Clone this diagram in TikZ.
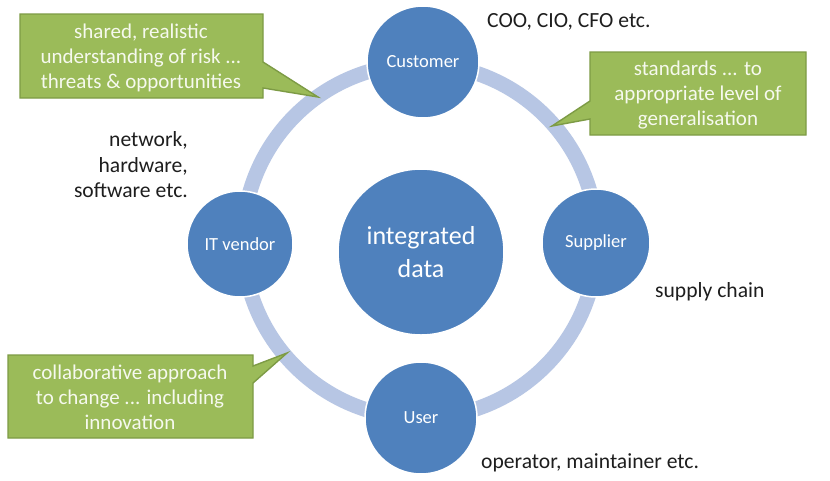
\documentclass[tikz,border=0pt]{standalone}
\usepackage{fontspec}
\setmainfont{Carlito}
\definecolor{ringblue}{HTML}{B7C6E4}
\definecolor{discblue}{HTML}{4F81BD}
\definecolor{notegreen}{HTML}{9BBB59}
\definecolor{noteedge}{HTML}{7D9B45}
\definecolor{notetext}{HTML}{F6F9EE}
\definecolor{labeltext}{HTML}{1E1E1E}
\begin{document}
\begin{tikzpicture}[x=1pt,y=-1pt,
  disc/.style={circle,fill=discblue,draw=white,line width=1.5pt,inner sep=0pt,
    text=white,align=center},
  smalldisc/.style={disc,minimum size=112pt,font=\fontsize{18.5}{22}\selectfont},
  bigdisc/.style={disc,minimum size=166pt,font=\fontsize{26}{33}\selectfont},
  notebox/.style={fill=notegreen,draw=noteedge,line width=1.4pt,line join=miter},
  notetxt/.style={text=notetext,align=center,inner sep=0pt,font=\fontsize{21}{25}\selectfont},
  tag/.style={text=labeltext,inner sep=0pt,font=\fontsize{21.6}{25.5}\selectfont}]
\useasboundingbox[fill=white] (0,0) rectangle (830,480);

% ring joining the four stakeholders
\draw[ringblue,line width=15pt] (420,241) circle[radius=177];

% stakeholders and the hub
\node[bigdisc] (hub) at (421,252) {integrated\\data};
\node[smalldisc] (customer) at (423,62) {Customer};
\node[smalldisc,minimum size=108pt] (supplier) at (596,243) {Supplier};
\node[smalldisc,minimum size=106pt] (vendor) at (240,244) {IT vendor};
\node[smalldisc] (user) at (421,418) {User};

% callout: risk
\coordinate (riskTip) at (318,97);
\path[notebox] (20,14) -- (263,14) -- (263,62) -- (riskTip) -- (263,88)
  -- (263,98) -- (20,98) -- cycle;
\node[notetxt] (risk) at (141,58)
  {shared, realistic\\understanding of risk ...\\threats \& opportunities};

% callout: standards
\coordinate (stdTip) at (552,126);
\path[notebox] (590,52) -- (806,52) -- (806,135) -- (590,135) -- (590,119)
  -- (stdTip) -- (590,101) -- cycle;
\node[notetxt] (standards) at (698,95)
  {standards ... to\\appropriate level of\\generalisation};

% callout: collaboration
\coordinate (collabTip) at (287,353);
\path[notebox] (8,355) -- (253,355) -- (253,366) -- (collabTip) -- (253,383)
  -- (253,438) -- (8,438) -- cycle;
\node[notetxt] (collab) at (130,397)
  {collaborative approach\\to change ... including\\innovation};

% plain annotations
\node[tag,anchor=west] (roles) at (487,22) {COO, CIO, CFO etc.};
\node[tag,anchor=east,align=right] (kit) at (188,165)
  {network,\\hardware,\\software etc.};
\node[tag,anchor=west] (chain) at (655,292) {supply chain};
\node[tag,anchor=west] (ops) at (481,463) {operator, maintainer etc.};
\end{tikzpicture}
\end{document}
